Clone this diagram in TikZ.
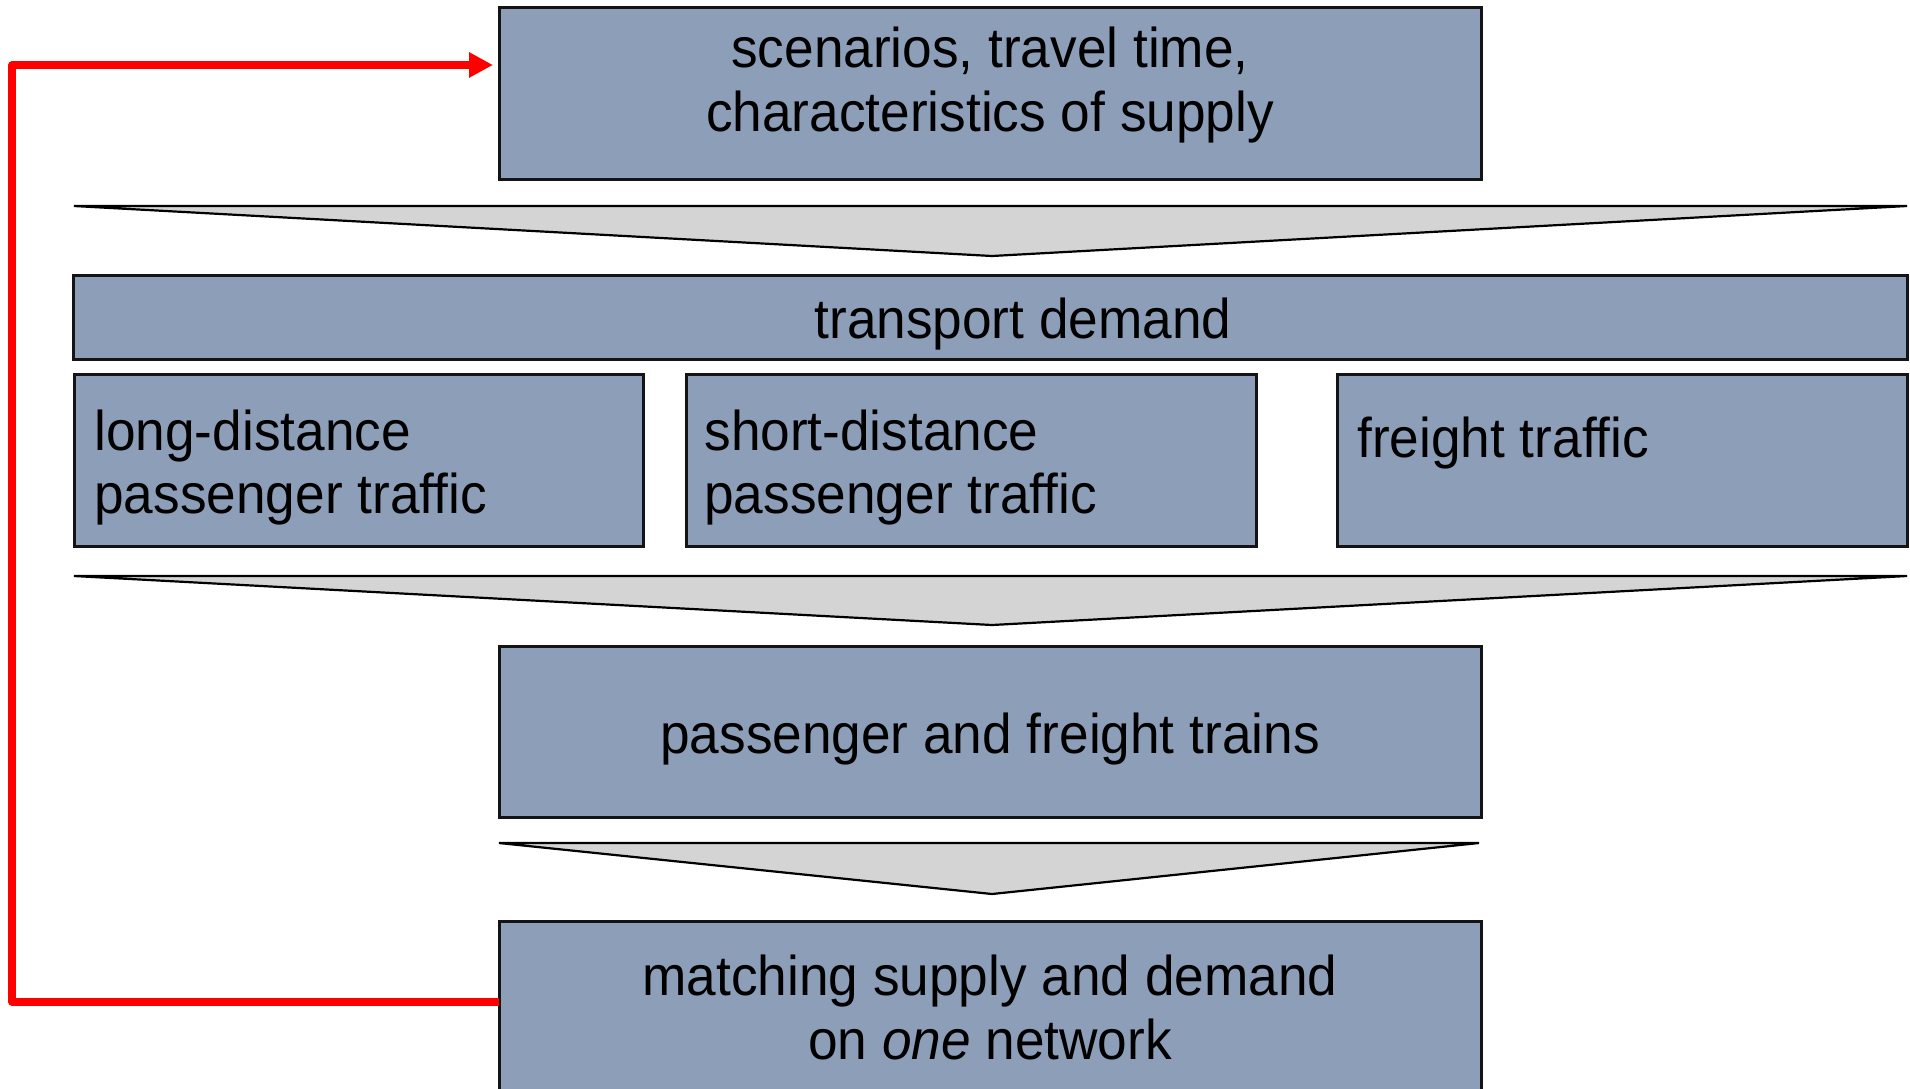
\documentclass[tikz,border=0pt]{standalone}
\usepackage{fontspec}
\setmainfont{Liberation Sans}[FakeStretch=0.95]
\usetikzlibrary{arrows.meta}
\definecolor{boxfill}{RGB}{141,158,184}
\definecolor{boxline}{RGB}{20,20,20}
\definecolor{chevfill}{RGB}{212,212,212}
\definecolor{loopred}{RGB}{255,0,0}
\tikzset{
  stage/.style={draw=boxline, line width=1.5pt, fill=boxfill, anchor=north west,
    inner sep=0pt, outer sep=0pt},
  chevron/.style={draw=black, line width=1.1pt, fill=chevfill, line join=miter},
  label/.style={anchor=base, inner sep=0pt, font=\fontsize{28pt}{32.25pt}\selectfont},
  leftlabel/.style={label, anchor=base west},
  feedback/.style={draw=loopred, line width=3.6pt, line join=round,
    -{Triangle[length=12pt, width=12pt]}, shorten >=3pt},
}
\begin{document}
\begin{tikzpicture}[x=0.5pt, y=-0.5pt]
\useasboundingbox (0,0) rectangle (1910,1088);
\clip (0,0) rectangle (1910,1088);

% boxes
\node[stage, minimum width=491pt, minimum height=86pt] (supply) at (499,7) {};
\node[stage, minimum width=917pt, minimum height=42pt] (demand) at (73,275) {};
\node[stage, minimum width=284.5pt, minimum height=86pt] (longd) at (74,374) {};
\node[stage, minimum width=285pt, minimum height=86pt] (shortd) at (686,374) {};
\node[stage, minimum width=285pt, minimum height=86pt] (freight) at (1337,374) {};
\node[stage, minimum width=491pt, minimum height=85.5pt] (trains) at (499,646) {};
\node[stage, minimum width=491pt, minimum height=110pt] (match) at (499,921) {};

% downward chevrons between the stages
\draw[chevron] (74,206) -- (1907,206) -- (992,256) -- cycle;
\draw[chevron] (74,576) -- (1907,576) -- (992,625) -- cycle;
\draw[chevron] (499,843) -- (1479,843) -- (992,894) -- cycle;

% texts
\node[label] (t1a) at (990,67) {scenarios, travel time,};
\node[label] (t1b) at (990,131) {characteristics of supply};
\node[label] (t2) at (1023,338) {transport demand};
\node[leftlabel] (t3a) at (94,450) {long-distance};
\node[leftlabel] (t3b) at (94,513) {passenger traffic};
\node[leftlabel] (t4a) at (704,450) {short-distance};
\node[leftlabel] (t4b) at (704,513) {passenger traffic};
\node[leftlabel] (t5) at (1357,457) {freight traffic};
\node[label] (t6) at (990,753) {passenger and freight trains};
\node[label] (t7a) at (990,995) {matching supply and demand};
\node[label] (t7b) at (990,1059) {on \textit{one} network};

% feedback loop
\coordinate (loopfoot) at (12,1002);
\coordinate (loophead) at (12,65);
\draw[feedback] (match.west |- loopfoot) -- (loopfoot) -- (loophead) -- (supply.west |- loophead);
\end{tikzpicture}
\end{document}
